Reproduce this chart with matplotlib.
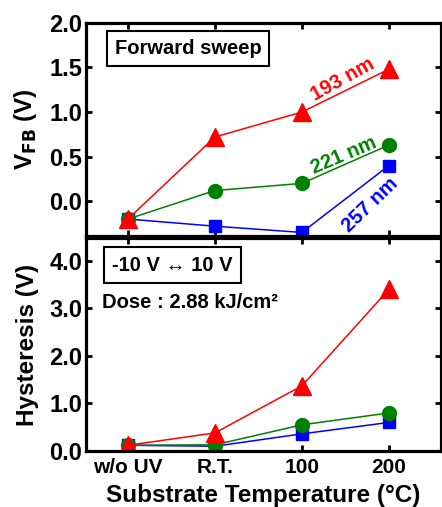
import numpy as np
import matplotlib.pyplot as plt

plt.rcParams['font.family'] = ['Liberation Sans', 'DejaVu Sans']
plt.rcParams['font.weight'] = 'bold'

categories = ["w/o UV", "R.T.", "100", "200"]
series_names = ["257 nm", "221 nm", "193 nm"]

# flat-band voltage (V), forward sweep
vfb_257 = [-0.20, -0.28, -0.35, 0.40]
vfb_221 = [-0.20, 0.12, 0.20, 0.63]
vfb_193 = [-0.20, 0.72, 1.00, 1.48]

# hysteresis (V)
hys_257 = [0.12, 0.10, 0.36, 0.60]
hys_221 = [0.12, 0.13, 0.55, 0.80]
hys_193 = [0.12, 0.38, 1.37, 3.40]

colors = ["blue", "green", "red"]
markers = ["s", "o", "^"]
msizes = [8, 10, 13]

x = np.arange(len(categories))

fig = plt.figure(figsize=(4.42, 5.07), dpi=100)
ax1 = fig.add_axes([0.195, 0.5345, 0.803, 0.4205])
ax2 = fig.add_axes([0.195, 0.1105, 0.803, 0.4201])

for ys, c, m, ms in zip([vfb_257, vfb_221, vfb_193], colors, markers, msizes):
    ax1.plot(x, ys, color=c, marker=m, markersize=ms, linewidth=1.1)
for ys, c, m, ms in zip([hys_257, hys_221, hys_193], colors, markers, msizes):
    ax2.plot(x, ys, color=c, marker=m, markersize=ms, linewidth=1.1)

for ax in (ax1, ax2):
    ax.set_xlim(-0.48, 3.6)
    ax.set_xticks(x)
    for s in ax.spines.values():
        s.set_linewidth(2.3)
    ax.tick_params(direction='in', width=2, length=4, top=True, right=True)
    ax.tick_params(axis='y', labelsize=17, pad=3)
    ax.tick_params(axis='x', labelsize=15)

ax1.set_ylim(-0.39, 2.0)
ax1.set_yticks([0.0, 0.5, 1.0, 1.5, 2.0])
ax1.set_yticklabels(["0.0", "0.5", "1.0", "1.5", "2.0"], fontweight='bold')
ax1.set_xticklabels([])
ax1.set_ylabel(r"V$_{\mathbf{FB}}$ (V)", fontsize=17.5, fontweight='bold', labelpad=7)

ax2.set_ylim(0, 4.48)
ax2.set_yticks([0.0, 1.0, 2.0, 3.0, 4.0])
ax2.set_yticklabels(["0.0", "1.0", "2.0", "3.0", "4.0"], fontweight='bold')
ax2.set_xticklabels(categories, fontweight='bold')
ax2.tick_params(axis='x', pad=5)
ax2.set_ylabel("Hysteresis (V)", fontsize=17.5, fontweight='bold', labelpad=7)
ax2.set_xlabel("Substrate Temperature (°C)", fontsize=17.5, fontweight='bold', labelpad=5)

# series labels
ax1.text(2.47, 1.37, series_names[2], color="red", fontsize=14.5, fontweight='bold',
         rotation=29, ha='center', va='center')
ax1.text(2.48, 0.51, series_names[1], color="green", fontsize=14.5, fontweight='bold',
         rotation=23, ha='center', va='center')
ax1.text(2.78, -0.04, series_names[0], color="blue", fontsize=14.5, fontweight='bold',
         rotation=44, ha='center', va='center')

box = dict(boxstyle='square,pad=0.4', facecolor='white', edgecolor='black', linewidth=1.5)
ax1.text(0.08, 0.88, "Forward sweep", transform=ax1.transAxes, fontsize=14.5,
         fontweight='bold', va='center', ha='left', bbox=box)
ax2.text(0.073, 0.873, "-10 V \u2194 10 V", transform=ax2.transAxes, fontsize=14.5,
         fontweight='bold', va='center', ha='left', bbox=box)
ax2.text(0.045, 0.695, "Dose : 2.88 kJ/cm\u00b2", transform=ax2.transAxes,
         fontsize=14.5, fontweight='bold', va='center', ha='left')

fig.savefig("out.png", dpi=100)
